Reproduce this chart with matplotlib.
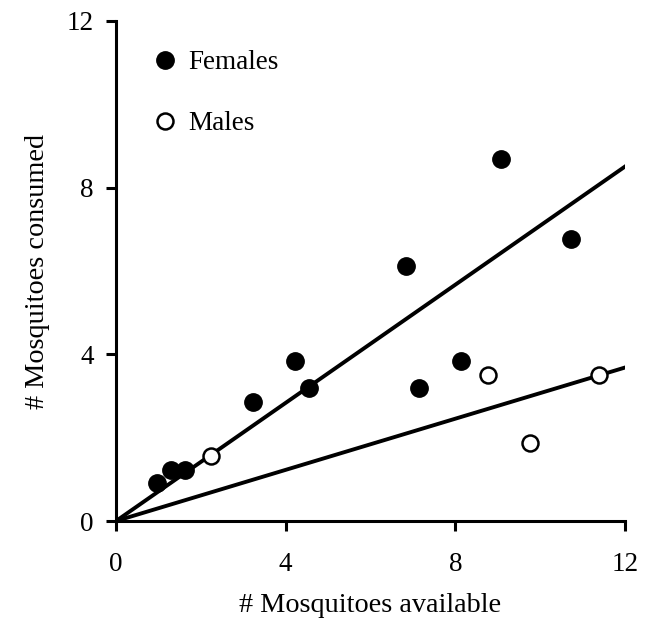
import matplotlib

matplotlib.use("Agg")
import matplotlib.pyplot as plt
import numpy as np

# values
female_available = [0.97, 1.30, 1.63, 3.24, 4.23, 4.56, 6.84, 7.15, 8.13, 9.08, 10.72]
female_consumed = [0.91, 1.22, 1.22, 2.85, 3.83, 3.19, 6.12, 3.19, 3.84, 8.70, 6.77]
male_available = [2.24, 8.76, 9.76, 11.38]
male_consumed = [1.56, 3.50, 1.88, 3.50]
female_slope = 0.709
male_slope = 0.307
ticks = [0, 4, 8, 12]

plt.rcParams["font.family"] = ["Liberation Serif", "DejaVu Serif"]

fig = plt.figure(figsize=(6.46, 6.23), dpi=100)
ax = fig.add_axes([0.1796, 0.1637, 0.788, 0.8026])

line_x = np.array([0, 12])
ax.plot(line_x, female_slope * line_x, color="black", lw=2.8, zorder=2)
ax.plot(line_x, male_slope * line_x, color="black", lw=2.8, zorder=2)

ax.plot(female_available, female_consumed, "o", ms=12.5, color="black",
        label="Females", zorder=3, linestyle="none")
ax.plot(male_available, male_consumed, "o", ms=11.5, mfc="white", mec="black",
        mew=1.8, label="Males", zorder=3, linestyle="none")

ax.set_xlim(0, 12)
ax.set_ylim(0, 12)
ax.set_xticks(ticks)
ax.set_yticks(ticks)
for side in ["top", "right"]:
    ax.spines[side].set_visible(False)
for side in ["left", "bottom"]:
    ax.spines[side].set_linewidth(2.2)
ax.tick_params(axis="both", direction="out", length=7, width=2.2, labelsize=19.5)
ax.tick_params(axis="x", pad=15)
ax.tick_params(axis="y", pad=9)

ax.set_xlabel("# Mosquitoes available", fontsize=20.3, labelpad=12)
ax.set_ylabel("# Mosquitoes consumed", fontsize=20.3, labelpad=12)

ax.legend(loc="upper left", bbox_to_anchor=(0.022, 0.99), frameon=False,
          fontsize=19.5, numpoints=1, handlelength=1.0, handletextpad=0.35,
          labelspacing=1.32)

fig.savefig("out.png", dpi=100)
plt.close(fig)
